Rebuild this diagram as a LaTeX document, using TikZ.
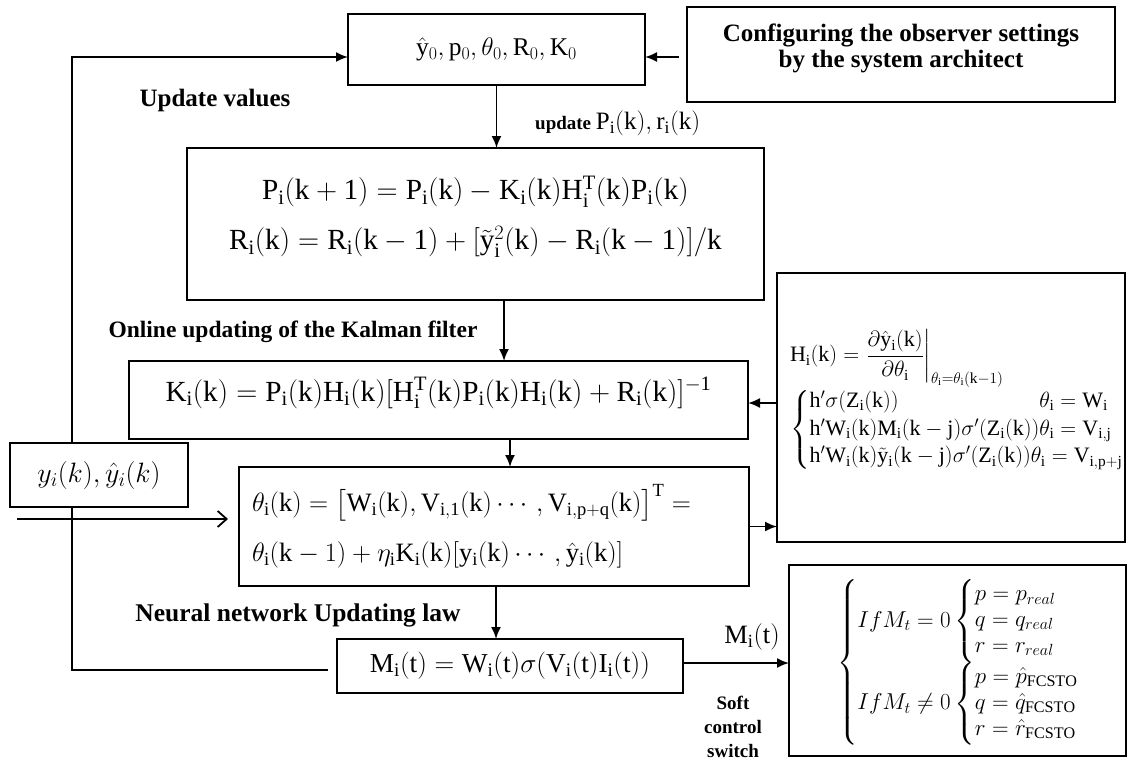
\RequirePackage{fix-cm}
\documentclass[tikz,border=0pt]{standalone}
\usepackage{amsmath}
\usepackage{amssymb}
\usepackage{mathtools}
\usepackage{fontspec}
\setmainfont{Liberation Serif}
\usepackage{tikz}
\usetikzlibrary{positioning}
\usetikzlibrary{shapes,arrows.meta,positioning}
\newcommand{\eqfont}{\fontsize{29.2}{50}\selectfont}
\newcommand{\smalleq}{\fontsize{22}{23}\selectfont}
\tikzstyle{block} = [rectangle, draw, fill=white, line width=1.8pt, inner sep=0pt, outer sep=0pt]
\tikzstyle{line} = [draw, line width=1.8pt, -{Latex[length=12pt,width=10pt]}]
\tikzstyle{lbl} = [font=\fontsize{24}{26}\selectfont\bfseries, inner sep=0pt]

\begin{document}
\begin{tikzpicture}[x=1pt, y=-1pt, node distance = 1cm, auto]
  \useasboundingbox (0,0) rectangle (1129,760);

    % Place nodes
    \node [block, minimum width=297pt, minimum height=71pt, font=\fontsize{25.5}{28}\selectfont] (init) at (496.5,49.5)
      {$\hat{\mathrm{y}}_0, \mathrm{p}_0, \theta_0, \mathrm{R}_0, \mathrm{K}_0$};
    \node [block, minimum width=428pt, minimum height=95pt, right=42pt of init, yshift=-5pt,
      align=center, font=\fontsize{25}{26}\selectfont\bfseries] (config)
      {Configuring the observer settings\\by the system architect\\[-8pt]\mbox{}};
    \node [block, minimum width=577pt, minimum height=152pt, below=63pt of init, xshift=-21pt,
      align=center, font=\eqfont] (pbox)
      {$\mathrm{P_i(k+1) = P_i(k) - K_i(k)H_i^T(k)P_i(k)}$\\
       $\mathrm{R_i(k) = R_i(k-1) + [}\tilde{\mathrm{y}}_\mathrm{i}^2\mathrm{(k) - R_i(k-1)]/k}$\\[-28pt]\mbox{}};
    \node [block, minimum width=619pt, minimum height=78pt, below=61pt of pbox, xshift=-37pt,
      text depth=22pt, font=\eqfont] (kbox)
      {$\mathrm{K_i(k) = P_i(k)H_i(k)[H_i^T(k)P_i(k)H_i(k) + R_i(k)]^{-1}}$};
    \node [block, text width=484pt, inner xsep=13pt, minimum height=119pt, below=28pt of kbox,
      xshift=55.5pt, align=left, font=\fontsize{26.5}{50}\selectfont] (tbox)
      {$\theta_\mathrm{i}(\mathrm{k}) = \big[\mathrm{W_i(k), V_{i,1}(k)} \cdots, \mathrm{V_{i,p+q}(k)}\big]^\mathrm{T} =$\\
       $\theta_\mathrm{i}(\mathrm{k}-1) + \eta_\mathrm{i}\mathrm{K_i(k)[y_i(k)}\cdots,\hat{\mathrm{y}}_\mathrm{i}(\mathrm{k})]$};
    \node [block, minimum width=346pt, minimum height=54pt, below=53pt of tbox, xshift=16pt,
      font=\fontsize{27.3}{30}\selectfont] (mbox)
      {$\mathrm{M_i(t) = W_i(t)}\sigma(\mathrm{V_i(t)I_i(t)})$};
    \node [block, text width=322pt, inner xsep=13pt, minimum height=269pt, right=29pt of kbox, yshift=-7.5pt,
      align=left, font=\smalleq] (hbox)
      {$\mathrm{H_i(k)} = \left.\dfrac{\partial\hat{\mathrm{y}}_\mathrm{i}(\mathrm{k})}{\partial\theta_\mathrm{i}}\right|_{\theta_\mathrm{i}=\theta_\mathrm{i}(\mathrm{k}-1)}$\\
       $\begin{cases}
         \mathrlap{\mathrm{h'}\sigma(\mathrm{Z_i(k)})}\hphantom{\mathrm{h'W_i(k)M_i(k-j)}\sigma'(\mathrm{Z_i(k)})}\theta_\mathrm{i} = \mathrm{W_i}\\
         \mathrm{h'W_i(k)M_i(k-j)}\sigma'(\mathrm{Z_i(k)})\theta_\mathrm{i} = \mathrm{V_{i,j}}\\
         \mathrm{h'W_i(k)}\tilde{\mathrm{y}}_\mathrm{i}\mathrm{(k-j)}\sigma'(\mathrm{Z_i(k)})\theta_\mathrm{i} = \mathrm{V_{i,p+j}}
       \end{cases}$\\[13pt]\mbox{}};
    \node [block, minimum width=336pt, minimum height=191pt, right=106pt of mbox, yshift=5.5pt,
      text height=103pt, text depth=87pt, font=\fontsize{23}{21.5}\selectfont] (sbox)
      {$\hspace{48pt}\begin{cases}
         IfM_t = 0 \begin{cases} p = p_{real}\\ q = q_{real}\\ r = r_{real} \end{cases}\\
         IfM_t \neq 0 \begin{cases} p = \hat{p}_{\mathrm{FCSTO}}\\ q = \hat{q}_{\mathrm{FCSTO}}\\ r = \hat{r}_{\mathrm{FCSTO}} \end{cases}
       \end{cases}$};

    % labels
    \node [lbl, font=\fontsize{25}{26}\selectfont\bfseries] (updval) at (215,100) {Update values};
    \node [lbl, anchor=west, font=\fontsize{19}{20}\selectfont\bfseries] (updpr) at (535,123)
      {update {\fontsize{25}{26}\selectfont$\mathrm{P_i(k), r_i(k)}$}};
    \node [lbl, font=\fontsize{23.5}{26}\selectfont\bfseries] (online) at (293,332) {Online updating of the Kalman filter};
    \node [lbl, font=\fontsize{25.5}{26}\selectfont\bfseries] (nnlaw) at (298,615) {Neural network Updating law};
    \node [inner sep=0pt, font=\fontsize{26.5}{30}\selectfont] (mlab) at (752,637) {$\mathrm{M_i(t)}$};
    \node [lbl, align=center, font=\fontsize{19}{24}\selectfont\bfseries] (soft) at (733,727)
      {Soft\\control\\switch};

    % edges
    \coordinate (fbl) at (72,0);
    \coordinate (yin) at (17,519);
    \path [line] ([xshift=-8pt,yshift=-2.5pt]config.west) -- ([yshift=-2.5pt]config.west -| init.east);
    \path [line] (init.south) -- (init.south |- pbox.north);
    \path [line] ([xshift=28.5pt]pbox.south) -- ([xshift=28.5pt]pbox.south |- kbox.north);
    \path [line] ([xshift=71.5pt]kbox.south) -- ([xshift=71.5pt]kbox.south |- tbox.north);
    \path [line] ([xshift=2pt]tbox.south) -- ([xshift=2pt]tbox.south |- mbox.north);
    \path [line] ([yshift=4.5pt]hbox.west) -- ([yshift=4.5pt]hbox.west -| kbox.east);
    \path [line] (tbox.east) -- (tbox.east -| hbox.west);
    \path [line] ([yshift=3pt]mbox.east) -- ([yshift=3pt]mbox.east -| sbox.west);
    \path [line] ([xshift=-9pt,yshift=-4pt]mbox.west) -| ([yshift=-7.5pt]init.west -| fbl)
      -- ([yshift=-7.5pt]init.west);
    \draw [line width=1.8pt, -{Straight Barb[length=9pt,width=16pt]}] (yin) -- ([xshift=-11pt]tbox.west |- yin);

    \node [block, minimum width=178pt, minimum height=64pt, font=\fontsize{28}{30}\selectfont] (ybox) at (99,475)
      {$y_i(k), \hat{y}_i(k)$};
\end{tikzpicture}
\end{document}
